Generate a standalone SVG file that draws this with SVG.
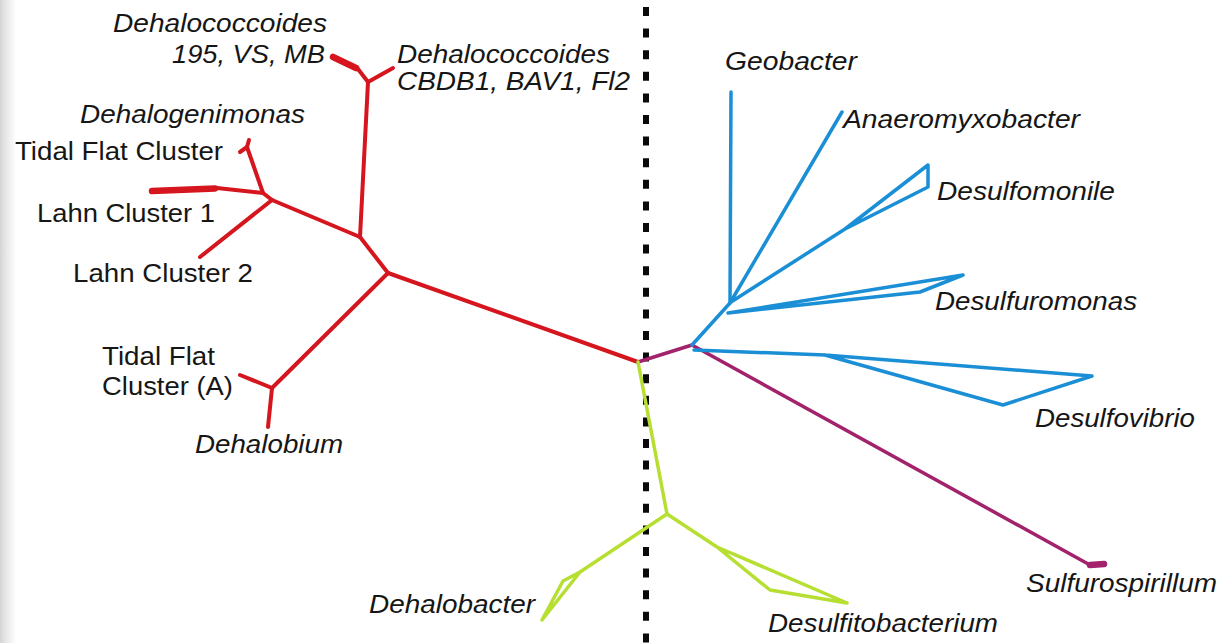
<svg xmlns="http://www.w3.org/2000/svg" width="1223" height="643" viewBox="0 0 1223 643">
<defs>
<linearGradient id="edge" x1="0" y1="0" x2="1" y2="0">
<stop offset="0" stop-color="#d4d4d4"/>
<stop offset="0.35" stop-color="#e6e6e6"/>
<stop offset="1" stop-color="#ffffff"/>
</linearGradient>
<style>
.br{fill:none;stroke-linecap:round;stroke-linejoin:round}
.red{stroke:#d5161e;stroke-width:4}
.blue{stroke:#1b8fd6;stroke-width:3.5}
.pur{stroke:#a2226b;stroke-width:3.5}
.grn{stroke:#b6df32;stroke-width:3.5}
.thick{stroke-width:6.5}
text{font-family:"Liberation Sans",Arial,Helvetica,sans-serif;font-size:25.5px;fill:#161616}
.it{font-style:italic}
</style>
</defs>
<rect x="0" y="0" width="1223" height="643" fill="#ffffff"/>
<rect x="0" y="0" width="16" height="643" fill="url(#edge)"/>
<g id="divider">
<line x1="646" y1="7" x2="646" y2="643" stroke="#0a0a0a" stroke-width="6" stroke-dasharray="9 12.6"/>
</g>
<g id="connectors">
<g id="red-clade" class="br red">
<path d="M638,362 L388,273"/>
<path d="M388,273 L360,237"/>
<path d="M388,273 L272,388"/>
<path d="M272,388 L240,375"/>
<path d="M272,388 L268,427"/>
<path d="M360,237 L368,82"/>
<path d="M368,82 L393,68"/>
<path d="M368,82 L358,69"/>
<path class="thick" d="M356,68 L333,57"/>
<path d="M360,237 L272,200"/>
<path d="M272,200 L263,193 L247,147"/>
<path d="M247,147 L240,152 M247,147 L249,140"/>
<path d="M263,193 L217,188"/>
<path class="thick" d="M215,188.5 L152,191"/>
<path d="M272,200 L200,257"/>
</g>
<g id="purple-clade" class="br pur">
<path d="M638,362 L692,345 L1090,565"/>
<path class="thick" d="M1090,565 L1104,564"/>
</g>
<g id="blue-clade" class="br blue">
<path d="M692,345 L730,303"/>
<path d="M730,303 L731,92"/>
<path d="M730,303 L842,112"/>
<path d="M731,302 L845,229 L928,165 L928,187 L845,229"/>
<path d="M728,313 L963,275 M728,313 L920,292 L963,275"/>
<path d="M694,350 L825,355 L1092,376 M825,355 L1003,405 L1092,376"/>
</g>
<g id="green-clade" class="br grn">
<path d="M638,362 L667,514"/>
<path d="M667,514 L580,572 L542,620 M580,572 L563,581 L542,620"/>
<path d="M667,514 L717,547 L847,603 M717,547 L770,590 L847,603"/>
</g>
</g>
<g id="n-dhc195"><text class="it" x="113" y="32" textLength="214" lengthAdjust="spacingAndGlyphs">Dehalococcoides</text>
<text class="it" x="172" y="63" textLength="153" lengthAdjust="spacingAndGlyphs">195, VS, MB</text></g>
<g id="n-dhccbdb1"><text class="it" x="397" y="63" textLength="213" lengthAdjust="spacingAndGlyphs">Dehalococcoides</text>
<text class="it" x="397" y="90" textLength="233" lengthAdjust="spacingAndGlyphs">CBDB1, BAV1, Fl2</text></g>
<g id="n-dhgm"><text class="it" x="80" y="123" textLength="225" lengthAdjust="spacingAndGlyphs">Dehalogenimonas</text></g>
<g id="n-tfc"><text x="15" y="160" textLength="208" lengthAdjust="spacingAndGlyphs">Tidal Flat Cluster</text></g>
<g id="n-lahn1"><text x="37" y="222" textLength="178" lengthAdjust="spacingAndGlyphs">Lahn Cluster 1</text></g>
<g id="n-lahn2"><text x="73" y="282" textLength="180" lengthAdjust="spacingAndGlyphs">Lahn Cluster 2</text></g>
<g id="n-tfca"><text x="102" y="365" textLength="113" lengthAdjust="spacingAndGlyphs">Tidal Flat</text>
<text x="102" y="395" textLength="131" lengthAdjust="spacingAndGlyphs">Cluster (A)</text></g>
<g id="n-dhb"><text class="it" x="195" y="453" textLength="148" lengthAdjust="spacingAndGlyphs">Dehalobium</text></g>
<g id="n-geo"><text class="it" x="725" y="70" textLength="132" lengthAdjust="spacingAndGlyphs">Geobacter</text></g>
<g id="n-anaero"><text class="it" x="843" y="128" textLength="237" lengthAdjust="spacingAndGlyphs">Anaeromyxobacter</text></g>
<g id="n-dsm"><text class="it" x="937" y="200" textLength="178" lengthAdjust="spacingAndGlyphs">Desulfomonile</text></g>
<g id="n-dsr"><text class="it" x="935" y="310" textLength="202" lengthAdjust="spacingAndGlyphs">Desulfuromonas</text></g>
<g id="n-dsv"><text class="it" x="1035" y="427" textLength="160" lengthAdjust="spacingAndGlyphs">Desulfovibrio</text></g>
<g id="n-sulf"><text class="it" x="1026" y="592" textLength="191" lengthAdjust="spacingAndGlyphs">Sulfurospirillum</text></g>
<g id="n-dsfb"><text class="it" x="768" y="632" textLength="230" lengthAdjust="spacingAndGlyphs">Desulfitobacterium</text></g>
<g id="n-dhbact"><text class="it" x="369" y="613" textLength="166" lengthAdjust="spacingAndGlyphs">Dehalobacter</text></g>
</svg>
